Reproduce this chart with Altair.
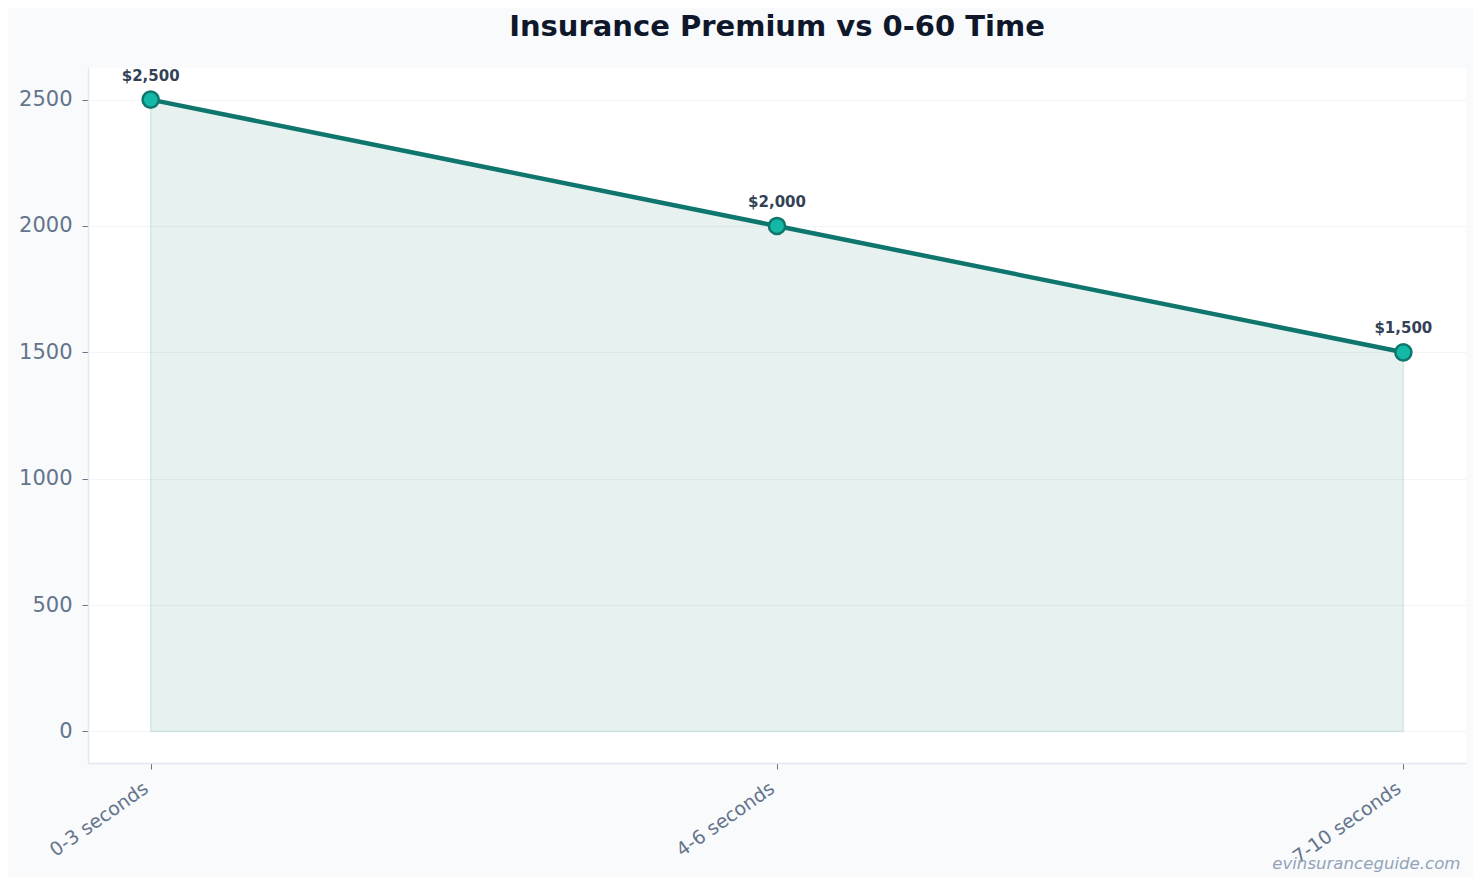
import altair as alt
import pandas as pd

categories = ["0-3 seconds", "4-6 seconds", "7-10 seconds"]
premiums = [2500, 2000, 1500]
y_ticks = [0, 500, 1000, 1500, 2000, 2500]

df = pd.DataFrame({"time": categories, "premium": premiums})

FONT = "DejaVu Sans"

x_enc = alt.X(
    "time:N",
    sort=categories,
    scale=alt.Scale(type="point", padding=0.1),
    axis=alt.Axis(
        title="evinsuranceguide.com",
        titleAnchor="end",
        titleAlign="right",
        titleX=1372,
        titleY=105,
        titleBaseline="alphabetic",
        titleFontStyle="italic",
        titleFontWeight="normal",
        titleFontSize=16.6,
        titleColor="#94a3b8",
        labelAngle=-35,
        labelAlign="right",
        labelBaseline="middle",
        labelFontSize=19,
        labelColor="#64748b",
        labelPadding=17,
        labelOffset=-5,
        tickSize=6,
        tickColor="#64748b",
        domainColor="#e2e8f0",
        domainWidth=1.5,
        grid=False,
    ),
)

y_scale = alt.Scale(domain=[-125, 2625], nice=False, zero=False)
y_enc = alt.Y(
    "premium:Q",
    scale=y_scale,
    axis=alt.Axis(
        title=None,
        values=y_ticks,
        format="d",
        labelFontSize=21,
        labelColor="#64748b",
        labelPadding=10,
        tickSize=6,
        tickColor="#64748b",
        domainColor="#e2e8f0",
        domainWidth=1.5,
        grid=True,
        gridColor="#f1f5f9",
        gridWidth=1,
        minExtent=75,
        maxExtent=75,
    ),
)

base = alt.Chart(df).encode(x=x_enc)

area = base.mark_area(
    color="#0f766e", fillOpacity=0.1, stroke="#0f766e", strokeOpacity=0.12, strokeWidth=1.5
).encode(y=y_enc, y2=alt.datum(0))

line = base.mark_line(color="#0f766e", strokeWidth=4.5).encode(y=y_enc)

points = base.mark_point(
    filled=True, fill="#14b8a6", stroke="#0f766e", strokeWidth=2.5, size=260, opacity=1
).encode(y=y_enc)

labels = base.mark_text(
    font=FONT, fontSize=15, fontWeight="bold", color="#334155", dy=-19, baseline="alphabetic"
).encode(y=y_enc, text=alt.Text("premium:Q", format="$,.0f"))

chart = (
    alt.layer(area, line, points, labels)
    .properties(
        width=1378,
        height=695,
        padding={"left": 5, "top": 5, "right": 7, "bottom": 5},
        title=alt.TitleParams(
            "Insurance Premium vs 0-60 Time",
            font=FONT,
            fontSize=29,
            fontWeight="bold",
            color="#0f172a",
            offset=26,
        ),
    )
    .configure(background="#f8fafc", font=FONT)
    .configure_view(fill="white", strokeWidth=0)
)

chart.save("out.html", embed_options={"renderer": "svg", "actions": False})
